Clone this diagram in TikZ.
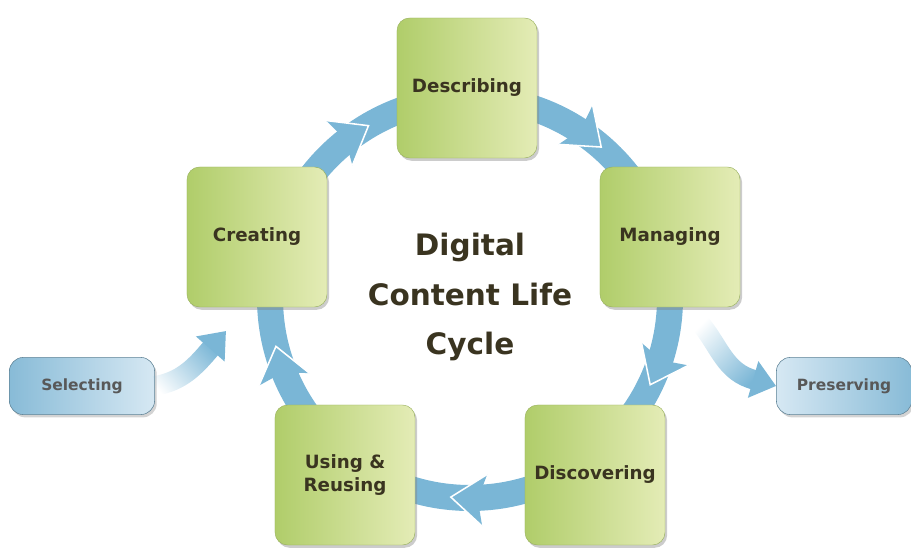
\documentclass[tikz,border=0pt]{standalone}
\usepackage{fontspec}
\setmainfont{DejaVu Sans}
\usetikzlibrary{shadows,fadings,arrows.meta}
\definecolor{ringblue}{RGB}{122,182,214}
\definecolor{leafdark}{RGB}{176,205,106}
\definecolor{leaflight}{RGB}{228,236,182}
\definecolor{labeltext}{RGB}{58,52,32}
\definecolor{tagdark}{RGB}{136,187,215}
\definecolor{taglight}{RGB}{214,232,243}
\definecolor{tagtext}{RGB}{88,88,88}
\tikzset{
	stage/.style={rounded corners=9pt, minimum width=3.5cm, minimum height=3.5cm,
		left color=leafdark, right color=leaflight, draw=leafdark!85!black, line width=.3pt,
		drop shadow={shadow xshift=1.5pt, shadow yshift=-2pt, opacity=.4},
		font=\bfseries\fontsize{13}{17}\selectfont, text=labeltext, align=center},
	tag/.style={rounded corners=10pt, minimum height=1.43cm,
		draw=tagdark!70!black, line width=.4pt,
		drop shadow={shadow xshift=1.5pt, shadow yshift=-2pt, opacity=.35},
		font=\bfseries\fontsize{11}{13}\selectfont, text=tagtext},
	ring/.style={draw=ringblue, line width=18.5pt},
	feed/.style={draw=ringblue, line width=14pt, path fading=west},
	feedtip/.style={draw=ringblue, line width=14pt, -{Triangle[length=17pt, width=26pt]}},
}
\begin{document}
\begin{tikzpicture}[x=0.025cm, y=0.025cm]
	\useasboundingbox (0,0) rectangle (911,547);
	\coordinate (ctr) at (470,249);
	\draw[ring] (ctr) circle[radius=200];
	\foreach \a in {120.5,49,-25.7,-95.5,-166}{
		\begin{scope}[shift={(ctr)}, rotate=\a]
			\fill[ringblue] (200,0) -- (226,34) -- (200,27) -- (174,34) -- cycle;
			\draw[white, line width=1.1pt] (226,34) -- (200,0) -- (174,34);
		\end{scope}
	}
	\coordinate (selBase) at (212,200);
	\coordinate (selTip) at (226,216);
	\coordinate (presTail) at (700,224);
	\coordinate (presBase) at (755,167);
	\node[tag, minimum width=3.63cm, left color=tagdark, right color=taglight] (selecting) at (82,161) {Selecting};
	\node[tag, minimum width=3.38cm, left color=taglight, right color=tagdark] (preserving) at (844,161) {Preserving};
	\draw[feed, fading angle=35] (selecting.east) to[out=10, in=230] (selBase);
	\draw[feedtip] (selBase) -- (selTip);
	\draw[feed, fading angle=-45] (presTail) to[out=-50, in=166] (presBase);
	\draw[feedtip] (presBase) -- (preserving.west);
	\node[stage] (describing) at (467,459) {Describing};
	\node[stage] (managing) at (670,310) {Managing};
	\node[stage] (discovering) at (595,72) {Discovering};
	\node[stage] (using) at (345,72) {Using \&\\Reusing};
	\node[stage] (creating) at (257,310) {Creating};
	\node[font=\bfseries\fontsize{21}{35.5}\selectfont, text=labeltext, align=center] (title) at (470,250) {Digital\\Content Life\\Cycle};
\end{tikzpicture}
\end{document}
